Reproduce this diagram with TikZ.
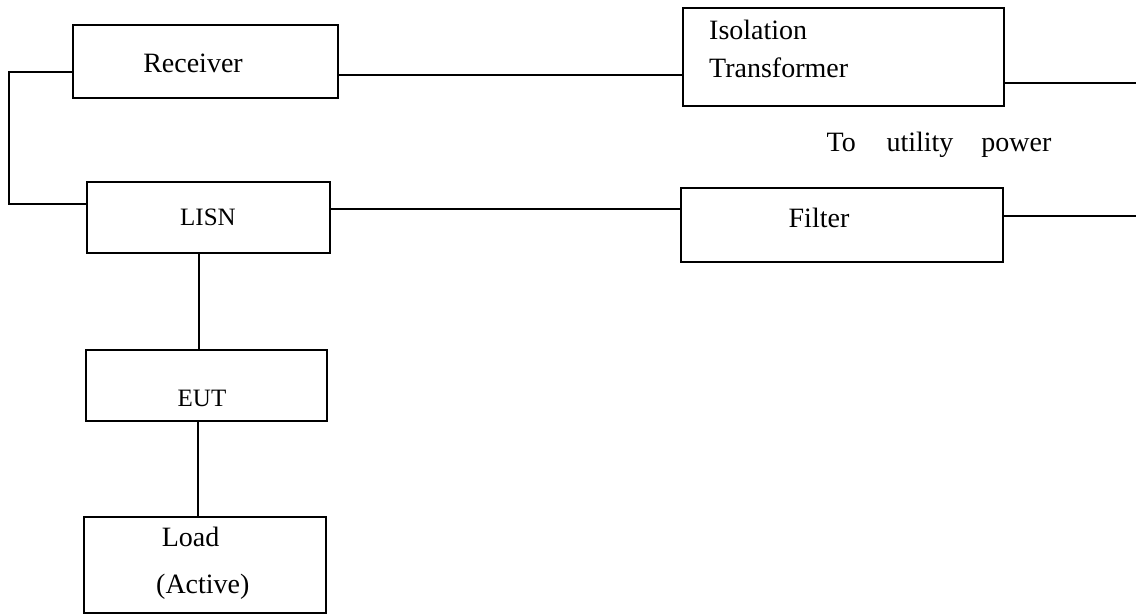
\documentclass[tikz,border=0pt]{standalone}
\usepackage{fontspec}
\setmainfont{Liberation Serif}
\begin{document}
\begin{tikzpicture}[x=1pt,y=-1pt,
  box/.style={draw,line width=1.6pt,rectangle,inner sep=0pt},
  lbl/.style={inner sep=0pt,font=\fontsize{28}{34}\selectfont},
  slbl/.style={inner sep=0pt,font=\fontsize{25}{30}\selectfont},
  wire/.style={line width=1.6pt}]
\useasboundingbox (0,0) rectangle (1136,616);
% boxes
\node[box,minimum width=265pt,minimum height=73pt] (rec) at (205.5,61.5) {};
\node[box,minimum width=243pt,minimum height=71pt] (lisn) at (208.5,217.5) {};
\node[box,minimum width=321pt,minimum height=98pt] (iso) at (843.5,57) {};
\node[box,minimum width=322pt,minimum height=74pt] (fil) at (842,225) {};
\node[box,minimum width=241pt,minimum height=71pt] (eut) at (206.5,385.5) {};
\node[box,minimum width=242pt,minimum height=96pt] (load) at (205,565) {};
% texts
\node[lbl] (rect) at (193,63) {Receiver};
\node[slbl] (lisnt) at (208,217) {LISN};
\node[lbl,anchor=west,align=left,font=\fontsize{28}{38}\selectfont] (isot) at (709,49) {Isolation\\Transformer};
\node[lbl] (filt) at (819,218) {Filter};
\node[lbl] (util) at (939,145) {To\hspace{1.1em}utility\hspace{1em}power};
\node[slbl] (eutt) at (202,398) {EUT};
\node[lbl,anchor=west,align=left,font=\fontsize{28}{47}\selectfont] (loadt) at (156,563) {\hspace{0.2em}Load\\(Active)};
% free ends
\coordinate (isoend) at (1136,83);
\coordinate (filend) at (1136,216);
\coordinate (loopx) at (9,0);
% wires
\draw[wire] (rec.east |- 0,75) -- (iso.west |- 0,75);
\draw[wire] (iso.east |- isoend) -- (isoend);
\draw[wire] (lisn.east |- 0,209) -- (fil.west |- 0,209);
\draw[wire] (fil.east |- filend) -- (filend);
\draw[wire] (rec.west |- 0,72) -- (loopx |- 0,72) -- (loopx |- 0,204) -- (lisn.west |- 0,204);
\draw[wire] (lisn.south -| 199,0) -- (eut.north -| 199,0);
\draw[wire] (eut.south -| 198,0) -- (load.north -| 198,0);
\end{tikzpicture}
\end{document}
